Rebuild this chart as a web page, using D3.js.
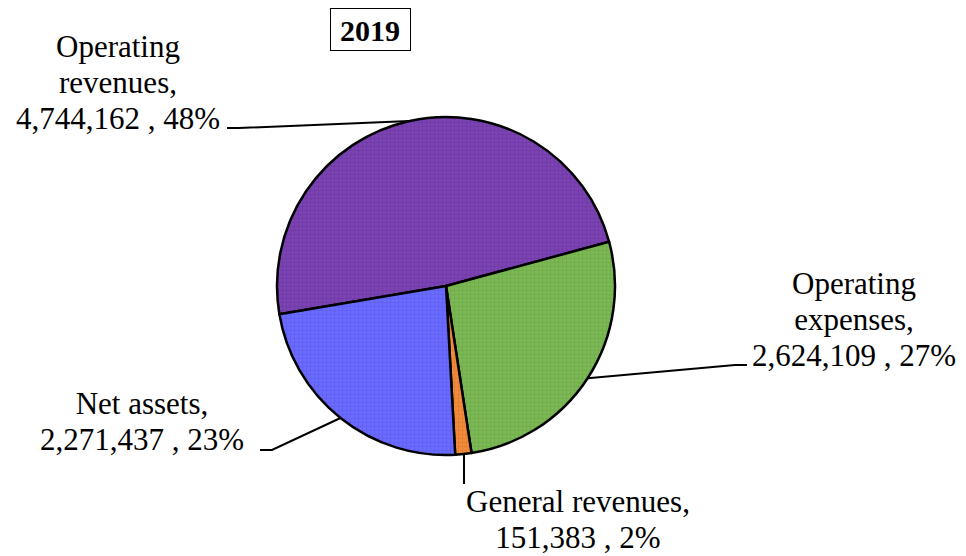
<!DOCTYPE html>
<html lang="en">
<head>
<meta charset="utf-8">
<title>2019</title>
<script src="https://d3js.org/d3.v7.min.js"></script>
<style>
  body { margin: 0; background: #fff; }
  text { font-family: "Liberation Serif", "Times New Roman", serif; fill: #000; }
</style>
</head>
<body>
<div id="chart"></div>
<script>
// data
const title = "2019";
const categories = ["Operating revenues", "Operating expenses", "General revenues", "Net assets"];
const values = [4744162, 2624109, 151383, 2271437];
const colors = ["#7c44b3", "#7cb955", "#f28b3c", "#6b6bff"];
const gridColors = ["#6a36a0", "#6ca748", "#dc7a2e", "#5a5aec"];

// label placement (center x, last baseline y, leader end)
const labelLayout = [
  { lines: ["Operating", "revenues,"], cx: 118, y: 129, lx: 227, ly: 128, side: "left" },
  { lines: ["Operating", "expenses,"], cx: 854, y: 366, lx: 747, ly: 365, side: "right" },
  { lines: ["General revenues,"], cx: 578, y: 548, lx: 464, ly: 484, side: "below" },
  { lines: ["Net assets,"], cx: 142, y: 450, lx: 260, ly: 450, side: "left" }
];

const width = 966, height = 556;
const cx = 446, cy = 286, radius = 169;
const lineH = 36;

const svg = d3.select("#chart").append("svg")
  .attr("width", width)
  .attr("height", height);

// fine grid fill like the original
const defs = svg.append("defs");
colors.forEach(function(c, i) {
  const p = defs.append("pattern")
    .attr("id", "pat" + i)
    .attr("patternUnits", "userSpaceOnUse")
    .attr("width", 4).attr("height", 4);
  p.append("rect").attr("width", 4).attr("height", 4).attr("fill", c);
  p.append("path")
    .attr("d", "M0,0.5H4M0.5,0V4")
    .attr("stroke", gridColors[i])
    .attr("stroke-width", 1)
    .attr("opacity", 0.6);
});

const total = d3.sum(values);
const pct = d3.format(".0%");
const num = d3.format(",");

const pie = d3.pie()
  .sort(null)
  .startAngle(-99.6 * Math.PI / 180)
  .endAngle((360 - 99.6) * Math.PI / 180);

const arcs = pie(values);
const arc = d3.arc().innerRadius(0).outerRadius(radius);

const g = svg.append("g").attr("transform", `translate(${cx},${cy})`);

g.selectAll("path.slice")
  .data(arcs)
  .enter().append("path")
    .attr("class", "slice")
    .attr("d", arc)
    .attr("fill", (d, i) => "url(#pat" + i + ")")
    .attr("stroke", "#000")
    .attr("stroke-width", 2.5)
    .attr("stroke-linejoin", "round");

// leader lines: from slice mid-angle on the rim to the label
arcs.forEach(function(d, i) {
  const L = labelLayout[i];
  const mid = (d.startAngle + d.endAngle) / 2;
  const px = cx + radius * Math.sin(mid);
  const py = cy - radius * Math.cos(mid);
  let pts;
  if (L.side === "below") {
    pts = [[L.lx, py], [L.lx, L.ly]];
  } else {
    const dir = L.side === "left" ? 1 : -1;
    pts = [[px, py], [L.lx + dir * 12, L.ly], [L.lx, L.ly]];
  }
  svg.append("path")
    .attr("d", d3.line()(pts))
    .attr("fill", "none")
    .attr("stroke", "#000")
    .attr("stroke-width", 2);
});

// labels
arcs.forEach(function(d, i) {
  const L = labelLayout[i];
  const rows = L.lines.concat([num(values[i]) + " , " + pct(values[i] / total)]);
  const t = svg.append("text")
    .attr("text-anchor", "middle")
    .style("font-size", "31px");
  const y0 = L.y - (rows.length - 1) * lineH;
  rows.forEach(function(r, k) {
    t.append("tspan").attr("x", L.cx).attr("y", y0 + k * lineH).text(r);
  });
});

// title box
svg.append("rect")
  .attr("x", 330.5).attr("y", 8.5)
  .attr("width", 80).attr("height", 42)
  .attr("fill", "#fff")
  .attr("stroke", "#000")
  .attr("stroke-width", 1);
svg.append("text")
  .attr("x", 370).attr("y", 41)
  .attr("text-anchor", "middle")
  .style("font-size", "30px")
  .style("font-weight", "bold")
  .text(title);
</script>
</body>
</html>
